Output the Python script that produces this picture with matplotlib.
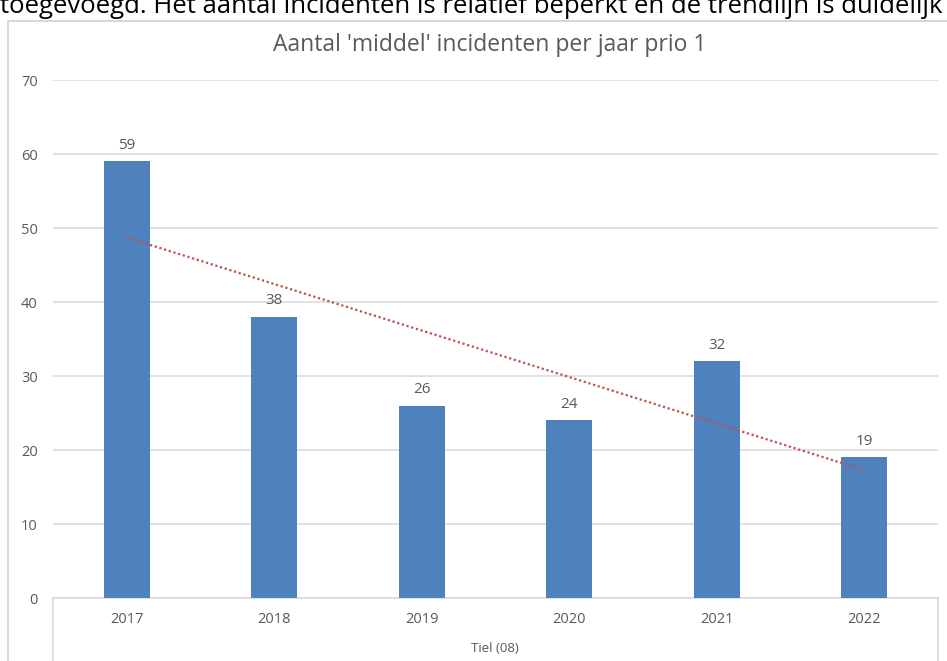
import numpy as np
import matplotlib
matplotlib.use("Agg")
import matplotlib.pyplot as plt
from matplotlib.lines import Line2D
from matplotlib.patches import Rectangle

plt.rcParams['font.family'] = ['Open Sans', 'DejaVu Sans']

# data
years = ['2017', '2018', '2019', '2020', '2021', '2022']
incidents = [59, 38, 26, 24, 32, 19]
group_label = 'Tiel (08)'
title = "Aantal 'middel' incidenten per jaar prio 1"
top_text = 'toegevoegd. Het aantal incidenten is relatief beperkt en de trendlijn is duidelijk'

W, H = 947, 661
fig = plt.figure(figsize=(W / 100, H / 100), dpi=100)
fig.patch.set_facecolor('white')


def fx(px):
    return px / W


def fy(py):
    return 1 - py / H


grey = '#595959'
bar_col = '#4f81bd'
line_col = '#d9d9d9'

# chart border (runs off the right and bottom of the screenshot)
fig.add_artist(Rectangle((fx(8), fy(700)), fx(960) - fx(8), fy(21) - fy(700),
                         transform=fig.transFigure, fill=False,
                         edgecolor='#cfcfcf', linewidth=1.2))

# cut-off text line above the chart (only its lower half is in the screenshot)
fig.text(fx(0), fy(13), top_text, fontsize=18.5, color='black',
         ha='left', va='baseline')

ax = fig.add_axes([fx(53), fy(598), fx(938) - fx(53), fy(80) - fy(598)])
x = np.arange(len(years))
ax.bar(x, incidents, width=0.31, color=bar_col, zorder=3)

# linear trendline
slope, icpt = np.polyfit(x + 1, incidents, 1)
ax.plot(x, slope * (x + 1) + icpt, color='#c0504d', linestyle=(0, (1, 1.2)),
        linewidth=1.6, zorder=4)

for xi, v in zip(x, incidents):
    ax.annotate(str(v), (xi, v), xytext=(0, 6), textcoords='offset points',
                ha='center', va='bottom', fontsize=11, color=grey)

ax.set_xlim(-0.5, len(years) - 0.5)
ax.set_ylim(0, 70)
ax.set_yticks(np.arange(0, 71, 10))
ax.yaxis.grid(True, color=line_col, linewidth=1.1, zorder=0)
ax.set_xticks(x)
ax.set_xticklabels(years)
ax.tick_params(axis='both', length=0, labelsize=10.5, labelcolor=grey)
ax.tick_params(axis='y', pad=11)
ax.tick_params(axis='x', pad=10)
for side in ['top', 'right', 'left']:
    ax.spines[side].set_visible(False)
ax.spines['bottom'].set_color(line_col)
ax.spines['bottom'].set_linewidth(1.1)

# multi-level category box
for px in (53, 938):
    fig.add_artist(Line2D([fx(px), fx(px)], [fy(598), fy(670)],
                          transform=fig.transFigure, color=line_col, linewidth=1.1))
fig.text(fx(495), fy(648), group_label, fontsize=9.5, color=grey,
         ha='center', va='center')

fig.text(fx(490), fy(45), title, fontsize=16.5, color=grey,
         ha='center', va='center')

fig.savefig('out.png', dpi=100)
